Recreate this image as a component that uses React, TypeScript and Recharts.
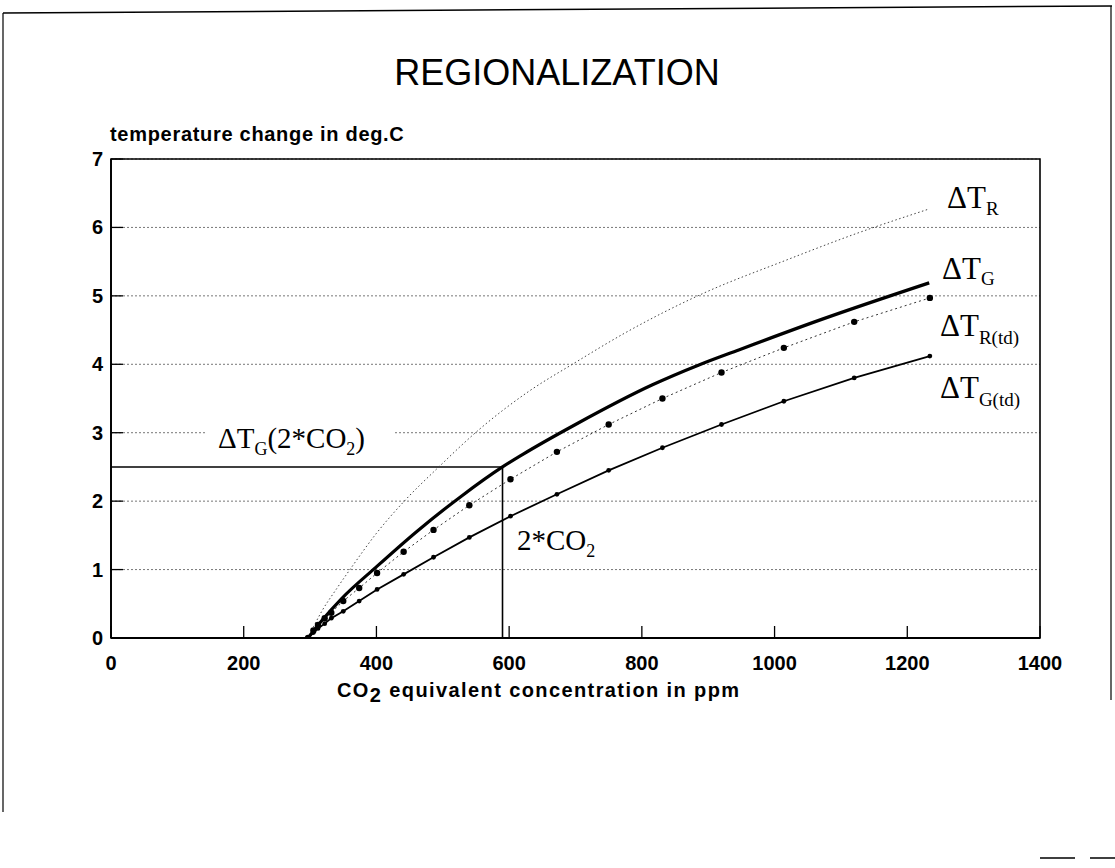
import React from "react";
import {
  LineChart,
  Line,
  XAxis,
  YAxis,
  CartesianGrid,
  ReferenceLine,
  ReferenceArea,
} from "recharts";

// ---- data ----
const X_TICKS = [0, 200, 400, 600, 800, 1000, 1200, 1400];
const Y_TICKS = [0, 1, 2, 3, 4, 5, 6, 7];

// Delta T_G (thick solid line)
const G_X = [297, 320, 348, 400, 460, 529, 590, 620, 700, 816, 886, 946, 1072, 1233];
const G_Y = [0, 0.28, 0.58, 1.04, 1.55, 2.08, 2.5, 2.68, 3.12, 3.7, 3.99, 4.21, 4.66, 5.19];

// Delta T_R (thin dotted line)
const R_X = [297, 317, 340, 363, 400, 441, 494, 554, 629, 697, 775, 891, 1017, 1123, 1233];
const R_Y = [0, 0.38, 0.72, 1.04, 1.53, 1.99, 2.5, 3.04, 3.6, 4.01, 4.46, 5.03, 5.52, 5.91, 6.27];

// time-dependent runs (markers at the same concentrations)
const TD_X = [297, 305, 312, 322, 332, 350, 374, 401, 441, 486, 540, 602, 672, 750, 831, 920, 1014, 1120, 1234];
const RTD_Y = [0, 0.11, 0.19, 0.29, 0.37, 0.54, 0.73, 0.95, 1.26, 1.58, 1.94, 2.32, 2.72, 3.12, 3.5, 3.88, 4.24, 4.62, 4.97];
const GTD_Y = [0, 0.08, 0.14, 0.21, 0.29, 0.39, 0.54, 0.71, 0.93, 1.18, 1.47, 1.78, 2.1, 2.45, 2.78, 3.12, 3.46, 3.8, 4.12];

// doubling reference
const DOUBLE_CO2 = 590;
const DT_G_2X = 2.5;

const toPts = (xs: number[], ys: number[]) => xs.map((x, i) => ({ x, y: ys[i] }));

const gData = toPts(G_X, G_Y);
const rData = toPts(R_X, R_Y);
const rtdData = toPts(TD_X, RTD_Y);
const gtdData = toPts(TD_X, GTD_Y);

const SANS = "'Liberation Sans', Arial, sans-serif";
const SERIF = "'Liberation Serif', 'Times New Roman', serif";

const XTick = (props: any) => {
  const { x, y, payload } = props;
  return (
    <g>
      <line x1={x} x2={x} y1={y} y2={y - 12} stroke="#000" strokeWidth={1.3} />
      <text
        x={x}
        y={y + 32}
        textAnchor="middle"
        fontFamily={SANS}
        fontWeight="bold"
        fontSize={20}
        fill="#000"
      >
        {payload.value}
      </text>
    </g>
  );
};

const YTick = (props: any) => {
  const { x, y, payload } = props;
  return (
    <g>
      <line x1={x} x2={x + 12} y1={y} y2={y} stroke="#000" strokeWidth={1.3} />
      <text
        x={x - 8}
        y={y + 7}
        textAnchor="end"
        fontFamily={SANS}
        fontWeight="bold"
        fontSize={20}
        fill="#000"
      >
        {payload.value}
      </text>
    </g>
  );
};

export default function App() {
  return (
    <div style={{ position: "absolute", left: 0, top: 0, width: 1115, height: 868, background: "#fff" }}>
      <LineChart
        width={1115}
        height={868}
        margin={{ top: 159, right: 75, bottom: 0, left: 0 }}
      >
        <CartesianGrid
          horizontal
          vertical={false}
          stroke="#777"
          strokeDasharray="2 2"
          strokeWidth={1}
        />
        <XAxis
          type="number"
          dataKey="x"
          domain={[0, 1400]}
          ticks={X_TICKS}
          height={230}
          tickSize={0}
          tickMargin={0}
          tickLine={false}
          axisLine={{ stroke: "#000", strokeWidth: 1.8 }}
          tick={<XTick />}
          allowDataOverflow
        />
        <YAxis
          type="number"
          dataKey="y"
          domain={[0, 7]}
          ticks={Y_TICKS}
          width={111}
          tickSize={0}
          tickMargin={0}
          tickLine={false}
          axisLine={{ stroke: "#000", strokeWidth: 1.8 }}
          tick={<YTick />}
          allowDataOverflow
        />
        <ReferenceArea
          x1={0}
          x2={1400}
          y1={0}
          y2={7}
          fill="none"
          stroke="#000"
          strokeWidth={1.6}
          fillOpacity={0}
        />
        <ReferenceLine
          segment={[
            { x: 0, y: DT_G_2X },
            { x: DOUBLE_CO2, y: DT_G_2X },
          ]}
          stroke="#000"
          strokeWidth={1.6}
        />
        <ReferenceLine
          segment={[
            { x: DOUBLE_CO2, y: 0 },
            { x: DOUBLE_CO2, y: DT_G_2X },
          ]}
          stroke="#000"
          strokeWidth={1.6}
        />
        <Line
          data={rData}
          dataKey="y"
          type="monotone"
          stroke="#444"
          strokeWidth={1}
          strokeDasharray="1.5 2.5"
          dot={false}
          isAnimationActive={false}
        />
        <Line
          data={rtdData}
          dataKey="y"
          type="linear"
          stroke="#333"
          strokeWidth={1}
          strokeDasharray="2 3"
          dot={{ r: 3.2, fill: "#000", stroke: "none" }}
          isAnimationActive={false}
        />
        <Line
          data={gtdData}
          dataKey="y"
          type="linear"
          stroke="#000"
          strokeWidth={1.8}
          dot={{ r: 2.4, fill: "#000", stroke: "none" }}
          isAnimationActive={false}
        />
        <Line
          data={gData}
          dataKey="y"
          type="monotone"
          stroke="#000"
          strokeWidth={3.2}
          strokeLinejoin="round"
          dot={false}
          isAnimationActive={false}
        />
      </LineChart>

      <svg
        width={1115}
        height={868}
        style={{ position: "absolute", left: 0, top: 0, pointerEvents: "none" }}
      >
        {/* outer frame */}
        <path d="M3 13 L1112 6" stroke="#000" strokeWidth={1.5} fill="none" />
        <path d="M3 13 L3 812" stroke="#000" strokeWidth={1.2} fill="none" />
        <path d="M1111 6 L1111 700" stroke="#000" strokeWidth={1.2} fill="none" />
        <path d="M1040 858 L1075 858 M1090 858 L1115 858" stroke="#000" strokeWidth={1.5} fill="none" />

        <text x={557} y={85} textAnchor="middle" fontFamily={SANS} fontSize={36} fill="#000">
          REGIONALIZATION
        </text>
        <text x={110} y={141} fontFamily={SANS} fontWeight="bold" fontSize={20} fill="#000" letterSpacing={0.7}>
          temperature change in deg.C
        </text>
        <text x={337} y={697} fontFamily={SANS} fontWeight="bold" fontSize={20} fill="#000" letterSpacing={1.4}>
          CO<tspan dy={5} fontSize={20}>2</tspan>
          <tspan dy={-5}> equivalent concentration in ppm</tspan>
        </text>

        {/* curve labels */}
        <text x={947} y={208} fontFamily={SERIF} fontSize={31} fill="#000">
          ΔT<tspan dy={7} fontSize={19}>R</tspan>
        </text>
        <text x={942} y={279} fontFamily={SERIF} fontSize={31} fill="#000">
          ΔT<tspan dy={6} fontSize={19}>G</tspan>
        </text>
        <text x={940} y={336} fontFamily={SERIF} fontSize={31} fill="#000">
          ΔT<tspan dy={8} fontSize={19}>R(td)</tspan>
        </text>
        <text x={940} y={398} fontFamily={SERIF} fontSize={31} fill="#000">
          ΔT<tspan dy={8} fontSize={19}>G(td)</tspan>
        </text>

        <rect x={205} y={419} width={188} height={28} fill="#fff" />
        <text x={218} y={448} fontFamily={SERIF} fontSize={29} fill="#000">
          ΔT<tspan dy={7} fontSize={18}>G</tspan>
          <tspan dy={-7}>(2*CO</tspan>
          <tspan dy={7} fontSize={18}>2</tspan>
          <tspan dy={-7}>)</tspan>
        </text>
        <text x={517} y={550} fontFamily={SERIF} fontSize={29} fill="#000">
          2*CO<tspan dy={7} fontSize={18}>2</tspan>
        </text>
      </svg>
    </div>
  );
}
